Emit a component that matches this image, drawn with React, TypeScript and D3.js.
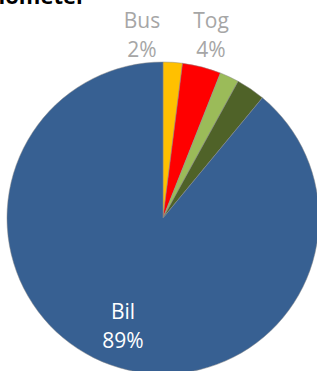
import { useEffect, useRef } from 'react';
import * as d3 from 'd3';

// mode share, percent of kilometres
const categories = ['Bus', 'Tog', 'Sykkel', 'Gange', 'Bil'];
const shares = [2, 4, 2, 3, 89];
const colors = ['#FFC000', '#FF0000', '#9BBB59', '#4F6228', '#376092'];
// which slices carry a label (others have none in the original)
const labelled = [true, true, false, false, true];

const W = 317;
const H = 371;

export default function App() {
  const svgRef = useRef<SVGSVGElement>(null);

  useEffect(() => {
    if (!svgRef.current) return;
    const svg = d3.select(svgRef.current);
    svg.selectAll('*').remove();

    const cx = 163;
    const cy = 218;
    const radius = 156;

    // title, cut off at the top-left like the source
    svg.append('text')
      .attr('x', 86)
      .attr('y', 4)
      .attr('text-anchor', 'end')
      .attr('font-family', 'Open Sans, Noto Sans, sans-serif')
      .attr('font-weight', 700)
      .attr('font-size', 22)
      .attr('fill', '#000')
      .text('Personkilometer');

    const data = categories.map((c, i) => ({ category: c, value: shares[i], color: colors[i], show: labelled[i] }));

    const pie = d3.pie<typeof data[number]>()
      .sort(null)
      .value(d => d.value);

    const arc = d3.arc<d3.PieArcDatum<typeof data[number]>>()
      .innerRadius(0)
      .outerRadius(radius);

    const g = svg.append('g').attr('transform', `translate(${cx},${cy})`);
    const arcs = pie(data);

    g.selectAll('path')
      .data(arcs)
      .join('path')
      .attr('d', arc)
      .attr('fill', d => d.data.color)
      .attr('stroke', '#8a8a8a')
      .attr('stroke-width', 0.5);

    // label spots (moved by hand in the original)
    const labelPos: Record<string, [number, number, string]> = {
      Bus: [142, 28, '#A6A6A6'],
      Tog: [211, 28, '#A6A6A6'],
      Bil: [123, 319, '#FFFFFF'],
    };

    arcs.filter(a => a.data.show).forEach(a => {
      const [x, y, fill] = labelPos[a.data.category];
      const t = svg.append('text')
        .attr('text-anchor', 'middle')
        .attr('font-family', 'Open Sans, Noto Sans, sans-serif')
        .attr('font-size', 21)
        .attr('fill', fill);
      t.append('tspan').attr('x', x).attr('y', y).text(a.data.category);
      t.append('tspan').attr('x', x).attr('y', y + 29).text(`${Math.round(a.value)}%`);
    });
  }, []);

  return (
    <>
      <style>{'body{margin:0;background:#fff}'}</style>
      <svg ref={svgRef} width={W} height={H} style={{ display: 'block' }} />
    </>
  );
}
